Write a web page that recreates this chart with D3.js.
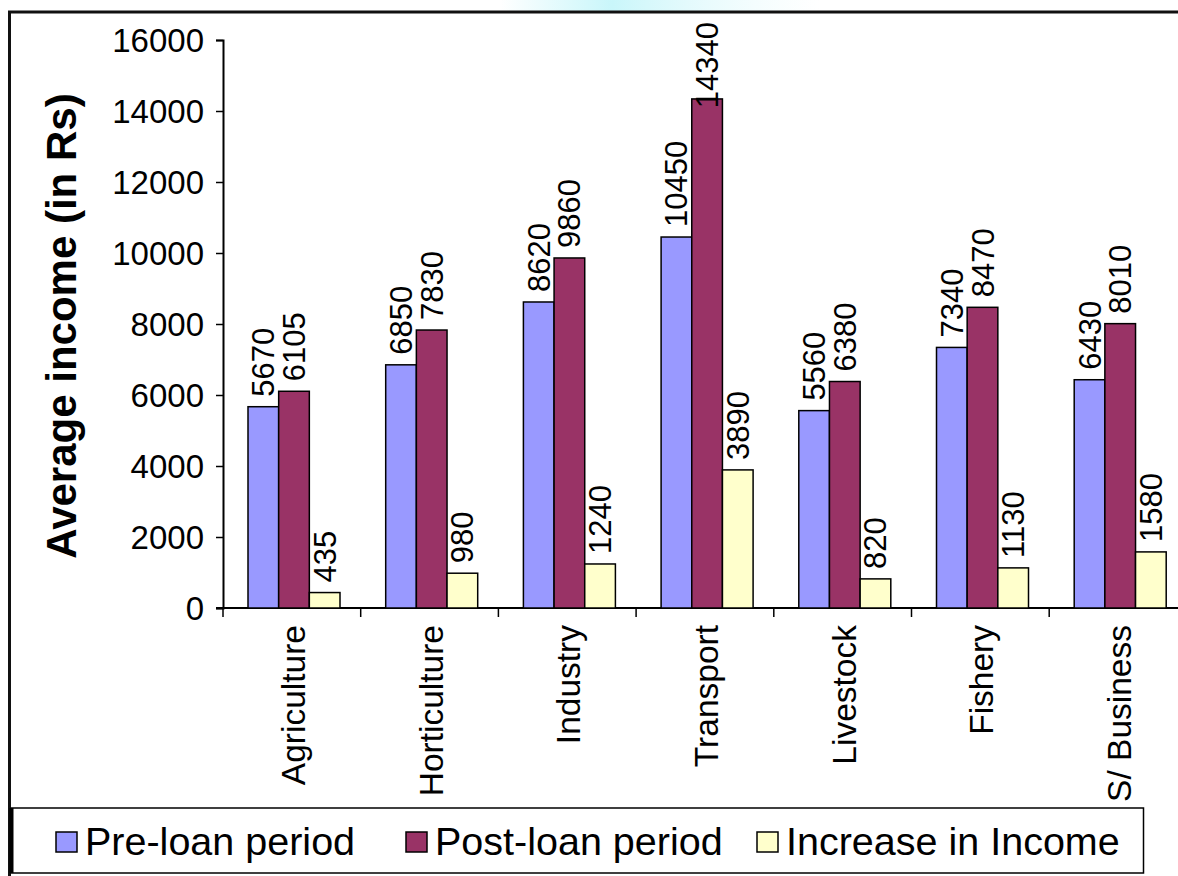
<!DOCTYPE html>
<html>
<head>
<meta charset="utf-8">
<script src="https://cdn.jsdelivr.net/npm/d3@7"></script>
<style>
  html, body { margin: 0; padding: 0; background: #fff; }
  svg { display: block; }
  text { font-family: Arial, "Liberation Sans", sans-serif; fill: #000; }
</style>
</head>
<body>
<svg id="chart" width="1178" height="876"></svg>
<script>
// Average monthly income by loan-use sector
const categories = ["Agriculture", "Horticulture", "Industry", "Transport", "Livestock", "Fishery", "S/ Business"];
const preLoan  = [5670, 6850, 8620, 10450, 5560, 7340, 6430];
const postLoan = [6105, 7830, 9860, 14340, 6380, 8470, 8010];
const increase = [435, 980, 1240, 3890, 820, 1130, 1580];
const seriesNames = ["Pre-loan period", "Post-loan period", "Increase in Income"];
const seriesColors = ["#9999FF", "#993366", "#FFFFCC"];
const yTicks = [0, 2000, 4000, 6000, 8000, 10000, 12000, 14000, 16000];

const seriesValues = [preLoan, postLoan, increase];

const svg = d3.select("#chart");

// soft cyan glow along the top edge
const defs = svg.append("defs");
const glow = defs.append("linearGradient").attr("id", "glow").attr("x1", "0").attr("x2", "1");
glow.append("stop").attr("offset", "0").attr("stop-color", "#c9f6fa").attr("stop-opacity", 0);
glow.append("stop").attr("offset", "0.35").attr("stop-color", "#c9f6fa").attr("stop-opacity", 1);
glow.append("stop").attr("offset", "0.55").attr("stop-color", "#d8f8fb").attr("stop-opacity", 0.8);
glow.append("stop").attr("offset", "1").attr("stop-color", "#e8fbfd").attr("stop-opacity", 0);
svg.append("rect").attr("x", 500).attr("y", 0).attr("width", 320).attr("height", 11).attr("fill", "url(#glow)");

// outer frame (top and left edges)
svg.append("line").attr("x1", 8).attr("x2", 1178).attr("y1", 12).attr("y2", 12)
  .attr("stroke", "#111").attr("stroke-width", 3);
svg.append("line").attr("x1", 9.5).attr("x2", 9.5).attr("y1", 11).attr("y2", 876)
  .attr("stroke", "#111").attr("stroke-width", 3);

// scales
const plotLeft = 223, plotBottom = 608, plotTop = 40, bandW = 137.7;
const x0 = d3.scaleBand().domain(categories)
  .range([plotLeft, plotLeft + bandW * categories.length]).padding(0);
const x1 = d3.scaleBand().domain(d3.range(seriesNames.length))
  .range([25, 25 + 92]).padding(0);
const y = d3.scaleLinear().domain([0, 16000]).range([plotBottom, plotTop]);

// y axis
const yAxis = svg.append("g").attr("transform", `translate(${plotLeft},0)`)
  .call(d3.axisLeft(y).tickValues(yTicks).tickSize(7).tickPadding(12).tickFormat(d3.format("d")));
yAxis.select(".domain").attr("stroke", "#000").attr("stroke-width", 2);
yAxis.selectAll(".tick line").attr("stroke", "#000").attr("stroke-width", 1.5);
yAxis.selectAll(".tick text").attr("font-size", 33).attr("font-family", "Arial, 'Liberation Sans', sans-serif")
  .attr("dy", "0.36em");

// x axis line and category boundary ticks
const xDomainEnd = plotLeft + bandW * categories.length;
svg.append("line").attr("x1", plotLeft - 7).attr("x2", xDomainEnd)
  .attr("y1", plotBottom).attr("y2", plotBottom).attr("stroke", "#000").attr("stroke-width", 2);
const boundaries = categories.map(c => x0(c)).concat([xDomainEnd]);
svg.append("g").selectAll("line").data(boundaries).join("line")
  .attr("x1", d => d).attr("x2", d => d)
  .attr("y1", plotBottom).attr("y2", plotBottom + 9)
  .attr("stroke", "#000").attr("stroke-width", 1.5);

// category labels
svg.append("g").selectAll("text").data(categories).join("text")
  .attr("transform", d => `translate(${x0(d) + x0.bandwidth() / 2 + 13},${plotBottom + 17}) rotate(-90)`)
  .attr("text-anchor", "end")
  .attr("font-size", 33.5)
  .text(d => d);

// bars
const cells = [];
categories.forEach((c, i) => {
  seriesValues.forEach((vals, s) => cells.push({ cat: c, s, v: vals[i] }));
});

svg.append("g").selectAll("rect").data(cells).join("rect")
  .attr("x", d => x0(d.cat) + x1(d.s))
  .attr("y", d => y(d.v))
  .attr("width", x1.bandwidth())
  .attr("height", d => plotBottom - y(d.v))
  .attr("fill", d => seriesColors[d.s])
  .attr("stroke", "#000").attr("stroke-width", 1.5);

// value labels, rotated, sitting above each bar
const labelSize = 31;
const labels = svg.append("g").selectAll("text").data(cells).join("text")
  .attr("font-size", labelSize)
  .text(d => d.v);
labels.each(function(d) {
  const w = this.getComputedTextLength();
  const cx = x0(d.cat) + x1(d.s) + x1.bandwidth() / 2 + 11;
  let start = y(d.v) - 10;
  if (start - w < 22) start = 22 + w;
  d3.select(this).attr("transform", `translate(${cx},${start}) rotate(-90)`);
});

// axis title
svg.append("text")
  .attr("transform", `translate(76,${(plotTop + plotBottom) / 2 + 2}) rotate(-90)`)
  .attr("text-anchor", "middle")
  .attr("font-size", 42).attr("font-weight", "bold")
  .text("Average income (in Rs)");

// legend
svg.append("rect").attr("x", 11.5).attr("y", 808).attr("width", 1132).attr("height", 65)
  .attr("fill", "#fff").attr("stroke", "#000").attr("stroke-width", 1.5);
svg.append("line").attr("x1", 11.5).attr("x2", 11.5).attr("y1", 808).attr("y2", 873)
  .attr("stroke", "#000").attr("stroke-width", 4);
const legendX = [56, 406, 757];
const legend = svg.append("g").selectAll("g").data(seriesNames).join("g")
  .attr("transform", (d, i) => `translate(${legendX[i]},832)`);
legend.append("rect").attr("width", 21).attr("height", 20)
  .attr("fill", (d, i) => seriesColors[i]).attr("stroke", "#000").attr("stroke-width", 1.5);
legend.append("text").attr("x", 29).attr("y", 23)
  .attr("font-size", 39.5).text(d => d);
</script>
</body>
</html>
